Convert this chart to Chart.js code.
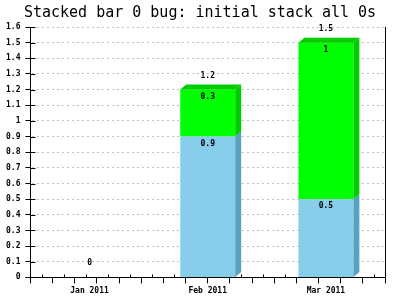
<!DOCTYPE html>
<html>
<head>
<meta charset="utf-8">
<script src="https://cdn.jsdelivr.net/npm/chart.js@4"></script>
<style>
html, body { margin: 0; padding: 0; background: #fff; }
</style>
</head>
<body>
<canvas id="chartStack" width="400" height="300"></canvas>
<script>
var months = ['Jan 2011', 'Feb 2011', 'Mar 2011'];
var lowerValues = [0, 0.9, 0.5];
var upperValues = [0, 0.3, 1];
var yMax = 1.6;
var yStep = 0.1;
var minorTickCount = 15;

var smallFont = { family: 'DejaVu Sans Mono', size: 8, weight: 'bold' };

function fmt(v) {
  return String(Math.round(v * 10) / 10);
}

var totals = lowerValues.map(function (v, i) { return v + upperValues[i]; });

// fake 3d sides + value labels
var barExtras = {
  id: 'barExtras',
  beforeDatasetsDraw: function (chart) {
    // axis ticks poke a little into the plot area
    var ctx = chart.ctx;
    var ys = chart.scales.y;
    var xs = chart.scales.xMinor;
    ctx.save();
    ctx.strokeStyle = '#000';
    ctx.lineWidth = 1;
    ys.ticks.forEach(function (t) {
      var py = Math.round(ys.getPixelForValue(t.value)) + 0.5;
      ctx.beginPath();
      ctx.moveTo(ys.right, py);
      ctx.lineTo(ys.right + 5, py);
      ctx.stroke();
    });
    xs.ticks.forEach(function (t) {
      var px = Math.round(xs.getPixelForValue(t.value)) + 0.5;
      ctx.beginPath();
      ctx.moveTo(px, xs.top);
      ctx.lineTo(px, xs.top - 3);
      ctx.stroke();
    });
    ctx.restore();
  },
  afterDatasetsDraw: function (chart) {
    var ctx = chart.ctx;
    var dx = 6, dy = 5;
    var sideColors = ['#58a2c0', '#00cc00'];
    var last = chart.data.datasets.length - 1;
    ctx.save();
    chart.data.datasets.forEach(function (ds, i) {
      chart.getDatasetMeta(i).data.forEach(function (bar) {
        if (Math.abs(bar.base - bar.y) < 0.5) return;
        var right = bar.x + bar.width / 2;
        var left = bar.x - bar.width / 2;
        ctx.fillStyle = sideColors[i];
        ctx.beginPath();
        ctx.moveTo(right, bar.y);
        ctx.lineTo(right + dx, bar.y - dy);
        ctx.lineTo(right + dx, bar.base - dy);
        ctx.lineTo(right, bar.base);
        ctx.closePath();
        ctx.fill();
        if (i === last) {
          ctx.beginPath();
          ctx.moveTo(left, bar.y);
          ctx.lineTo(left + dx, bar.y - dy);
          ctx.lineTo(right + dx, bar.y - dy);
          ctx.lineTo(right, bar.y);
          ctx.closePath();
          ctx.fill();
        }
      });
    });

    ctx.font = 'bold 8px "DejaVu Sans Mono"';
    ctx.fillStyle = '#000';
    ctx.textAlign = 'center';
    ctx.textBaseline = 'middle';
    chart.data.datasets.forEach(function (ds, i) {
      chart.getDatasetMeta(i).data.forEach(function (bar, j) {
        if (ds.data[j] !== 0) ctx.fillText(fmt(ds.data[j]), bar.x, bar.y + 7);
      });
    });
    chart.getDatasetMeta(last).data.forEach(function (bar, j) {
      ctx.fillText(fmt(totals[j]), bar.x, bar.y - 14);
    });
    ctx.restore();
  }
};

function renderStackChart() {
  var chartStack = document.getElementById('chartStack');
  if (chartStack) {
    new Chart(chartStack, {
      type: 'bar',
      data: {
        labels: months,
        datasets: [
          { data: lowerValues, backgroundColor: '#87ceeb', xAxisID: 'x', yAxisID: 'y' },
          { data: upperValues, backgroundColor: '#00ff00', xAxisID: 'x', yAxisID: 'y' }
        ]
      },
      options: {
        responsive: false,
        animation: false,
        devicePixelRatio: 1,
        categoryPercentage: 1,
        barPercentage: 0.465,
        layout: { padding: { left: 1, right: 1, top: 4, bottom: 1 } },
        plugins: {
          title: {
            display: true,
            text: 'Stacked bar 0 bug: initial stack all 0s',
            color: '#000',
            font: { family: 'DejaVu Sans Mono', size: 15, weight: 'normal' },
            padding: { top: 0, bottom: 5 }
          },
          legend: { display: false },
          tooltip: { enabled: false }
        },
        scales: {
          x: {
            type: 'category',
            stacked: true,
            position: 'bottom',
            weight: 1,
            grid: { display: false, drawTicks: false },
            border: { display: false },
            ticks: { color: '#000', font: smallFont, padding: 3, maxRotation: 0 }
          },
          xMinor: {
            type: 'linear',
            position: 'bottom',
            weight: 0,
            min: 0,
            max: minorTickCount,
            ticks: { display: false, stepSize: 1 },
            grid: { drawOnChartArea: false, tickLength: 6, color: '#000' },
            border: { display: true, color: '#000' }
          },
          y: {
            stacked: true,
            min: 0,
            max: yMax,
            ticks: {
              stepSize: yStep,
              color: '#000',
              font: smallFont,
              padding: 5,
              callback: function (v) { return fmt(v); }
            },
            grid: {
              color: function (c) { return c.tick && c.tick.value === 0 ? 'rgba(0,0,0,0)' : '#c0c0c0'; },
              tickColor: '#000',
              tickLength: 5,
              tickBorderDash: []
            },
            border: { display: true, color: '#000', dash: [2, 3], dashOffset: -6 }
          },
          yRight: {
            type: 'linear',
            position: 'right',
            afterFit: function (scale) { scale.width = 14; },
            ticks: { display: false },
            grid: { drawOnChartArea: false, drawTicks: false },
            border: { display: true, color: '#000' }
          }
        }
      },
      plugins: [barExtras]
    });
  }
}

renderStackChart();
</script>
</body>
</html>
